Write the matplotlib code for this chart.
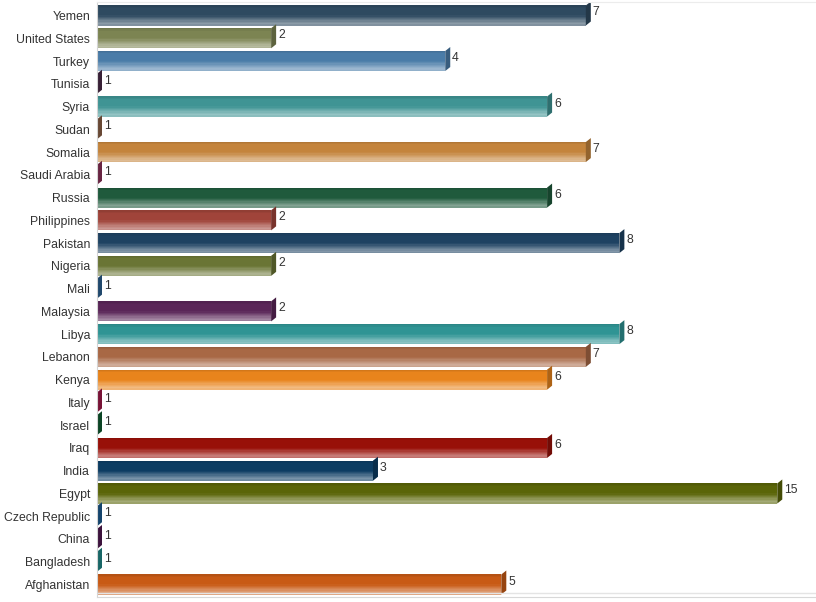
import numpy as np
import matplotlib.pyplot as plt
from matplotlib.patches import Polygon
from matplotlib.colors import to_rgb

countries = ["Yemen", "United States", "Turkey", "Tunisia", "Syria", "Sudan",
             "Somalia", "Saudi Arabia", "Russia", "Philippines", "Pakistan",
             "Nigeria", "Mali", "Malaysia", "Libya", "Lebanon", "Kenya", "Italy",
             "Israel", "Iraq", "India", "Egypt", "Czech Republic", "China",
             "Bangladesh", "Afghanistan"]
counts = [7, 2, 4, 1, 6, 1, 7, 1, 6, 2, 8, 2, 1, 2, 8, 7, 6, 1, 1, 6, 3, 15, 1, 1, 1, 5]
bar_colors = ["#2e4a60", "#7c8452", "#4a7ca8", "#4a2a48", "#3f9494", "#8b6045",
              "#c4843c", "#8a3058", "#1f5a3c", "#a0443a", "#1e4262", "#6a7535",
              "#2a6090", "#5a2658", "#2f9494", "#a86845", "#e8841c", "#a01848",
              "#0f5a30", "#981008", "#0c3c62", "#5a6508", "#1a5a90", "#501850",
              "#208888", "#c85a15"]

W, H, DPI = 816, 602, 100
fig = plt.figure(figsize=(W / DPI, H / DPI), dpi=DPI)
ax = fig.add_axes([97 / W, 5 / H, (W - 97) / W, 595 / H])

x0, x1 = 1.0, 17.5
ax.set_xscale("log")
ax.set_xlim(x0, x1)
ax.set_ylim(len(countries) - 1 + 0.549, -0.593)

# pixel sizes -> data units for the 3d side face
row_px = 595 / (len(countries) - 1 + 0.549 + 0.593)
px_per_decade = (W - 97) / np.log10(x1 / x0)
depth = 5
fx = 10 ** (depth / px_per_decade)
dy = 4 / row_px


def shade(c, f):
    c = np.array(to_rgb(c))
    if f >= 0:
        return tuple(c + (1 - c) * f)
    return tuple(c * (1 + f))


def profile(t):
    # top of bar slightly darker, lower part lighter
    if t < 0.15:
        return -0.12 * (1 - t / 0.15)
    if t < 0.5:
        return 0.0
    if t < 0.9:
        return 0.45 * (t - 0.5) / 0.4
    return 0.45 - 0.8 * (t - 0.9)


h = 0.88
n = 16
for i, (v, c) in enumerate(zip(counts, bar_colors)):
    top = i - h / 2
    for k in range(n):
        t = (k + 0.5) / n
        ax.barh(top + t * h, v - x0, height=h / n * 1.08, left=x0,
                color=shade(c, profile(t)), linewidth=0)
    side = [(v, i + h / 2), (v, top), (v * fx, top - dy), (v * fx, i + h / 2 - dy)]
    ax.add_patch(Polygon(side, closed=True, facecolor=shade(c, -0.25), linewidth=0))
    ax.annotate(str(v), xy=(v * fx, i), xytext=(2, 3), textcoords="offset pixels",
                ha="left", va="center", fontsize=8.8, color="#333333",
                family="Liberation Sans")

ax.set_yticks(range(len(countries)))
ax.set_yticklabels(countries, fontsize=8.8, color="#333333", family="Liberation Sans")
ax.tick_params(axis="y", length=0, pad=5)
ax.set_xticks([])
ax.xaxis.set_minor_locator(plt.NullLocator())

ax.spines["right"].set_visible(False)
ax.spines["left"].set_color("#d4d4d4")
ax.spines["top"].set_color("#ececec")
ax.spines["bottom"].set_color("#d8d8d8")
ax.axhline(len(countries) - 1 + 0.549 - 4 / row_px, color="#e4e4e4", lw=1)

fig.savefig("out.png", dpi=DPI)
